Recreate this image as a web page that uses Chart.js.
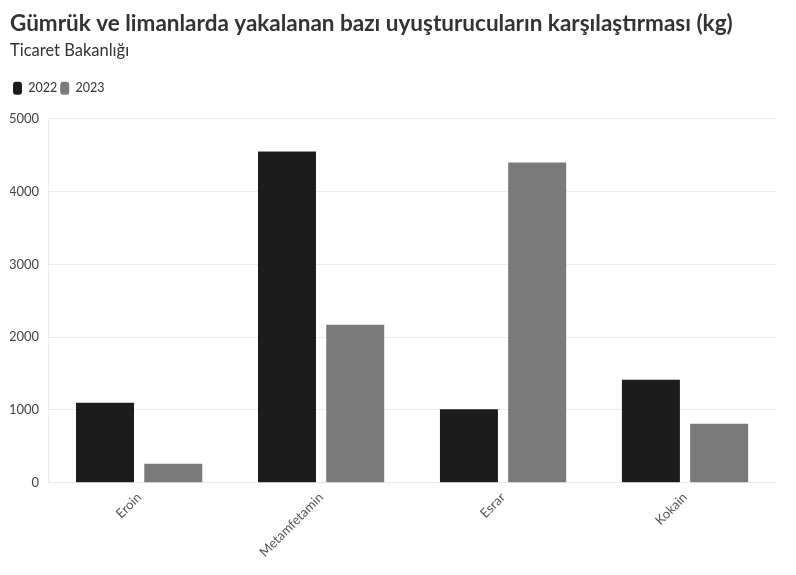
<!DOCTYPE html>
<html>
<head>
<meta charset="utf-8">
<script src="https://cdn.jsdelivr.net/npm/chart.js@4"></script>
<style>
  html, body { margin: 0; padding: 0; background: #fff; }
  #wrap { width: 796px; height: 575px; position: relative; }
</style>
</head>
<body>
<div id="wrap"><canvas id="chart"></canvas></div>
<script>
const categories = ["Eroin", "Metamfetamin", "Esrar", "Kokain"];
const values2022 = [1100, 4550, 1010, 1415];
const values2023 = [260, 2170, 4400, 810];
const yTicks = [0, 1000, 2000, 3000, 4000, 5000];

const FONT = "Lato, 'Noto Sans', sans-serif";

// extra space under the legend
const legendMargin = {
  id: "legendMargin",
  beforeInit(chart) {
    const fit = chart.legend.fit;
    chart.legend.fit = function () {
      fit.bind(chart.legend)();
      this.height += 14;
    };
  }
};

new Chart(document.getElementById("chart"), {
  type: "bar",
  data: {
    labels: categories,
    datasets: [
      { label: "2022", data: values2022, backgroundColor: "#1c1c1c",
        categoryPercentage: 0.75, barPercentage: 0.85 },
      { label: "2023", data: values2023, backgroundColor: "#7a7a7a",
        categoryPercentage: 0.75, barPercentage: 0.85 }
    ]
  },
  plugins: [legendMargin],
  options: {
    responsive: true,
    maintainAspectRatio: false,
    animation: false,
    layout: { padding: { left: 10, right: 20, top: 0, bottom: 12 } },
    plugins: {
      title: {
        display: true,
        text: "Gümrük ve limanlarda yakalanan bazı uyuşturucuların karşılaştırması (kg)",
        align: "start",
        color: "#333",
        font: { family: FONT, size: 22.5, weight: "bold" },
        padding: { top: 10, bottom: 4 }
      },
      subtitle: {
        display: true,
        text: "Ticaret Bakanlığı",
        align: "start",
        color: "#333",
        font: { family: FONT, size: 16.5 },
        padding: { top: 0, bottom: 18 }
      },
      legend: {
        align: "start",
        labels: {
          boxWidth: 9,
          boxHeight: 13,
          useBorderRadius: true,
          borderRadius: 3,
          padding: 3,
          color: "#333",
          font: { family: FONT, size: 12.5 }
        }
      },
      tooltip: { enabled: false }
    },
    scales: {
      x: {
        grid: { display: false, drawTicks: true, tickLength: 4 },
        border: { color: "#e8e8e8" },
        ticks: {
          minRotation: 45, maxRotation: 45,
          color: "#555",
          font: { family: FONT, size: 13 }
        }
      },
      y: {
        min: 0, max: 5000,
        afterBuildTicks: (axis) => { axis.ticks = yTicks.map(v => ({ value: v })); },
        afterFit: (axis) => { axis.width -= 10; },
        grid: { color: "#ececec", drawTicks: false },
        border: { color: "#ececec" },
        ticks: {
          padding: 9,
          color: "#444",
          font: { family: FONT, size: 13 },
          callback: (v) => String(v)
        }
      }
    }
  }
});
</script>
</body>
</html>
